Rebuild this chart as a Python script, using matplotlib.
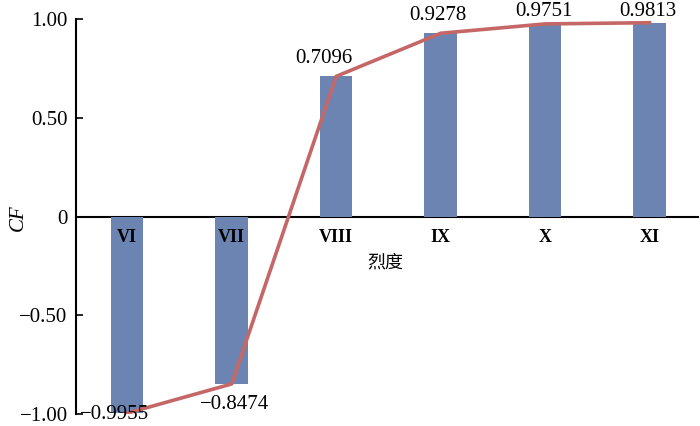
import matplotlib
matplotlib.use("Agg")
from matplotlib import pyplot as plt
import numpy as np

# data
roman_text = ["VI", "VII", "VIII", "IX", "X", "XI"]
cf_values = [-0.9955, -0.8474, 0.7096, 0.9278, 0.9751, 0.9813]
value_labels = ["\u22120.9955", "\u22120.8474", "0.7096", "0.9278", "0.9751", "0.9813"]
yticks = [-1.0, -0.5, 0, 0.5, 1.0]
ytick_labels = ["\u22121.00", "\u22120.50", "0", "0.50", "1.00"]

# label offsets in points (dx, dy)
label_offsets = [(-9, -1), (2, -15), (-9, 13), (-2, 13), (-1, 9), (-1, 8)]

bar_color = "#6b84b1"
line_color = "#c46766"
serif = ["Liberation Serif", "DejaVu Serif"]

fig = plt.figure(figsize=(7, 4.26), dpi=100)
ax = fig.add_axes([0.1086, 0.028, 0.888, 0.9274])

x = np.arange(len(cf_values))
ax.bar(x, cf_values, width=0.31, color=bar_color, zorder=2)
ax.plot(x, cf_values, color=line_color, lw=2.6, zorder=3)

for i in range(len(cf_values)):
    ax.annotate(value_labels[i], (x[i], cf_values[i]), xytext=label_offsets[i],
                textcoords="offset points", ha="center", va="center",
                fontsize=15, family=serif, zorder=4)
    ax.text(x[i], -0.105, roman_text[i], ha="center", va="center",
            fontsize=13, family=serif, fontweight="bold", zorder=4)

ax.text(2.47, -0.23, "烈度", ha="center", va="center", fontsize=13,
        family=["Noto Sans CJK SC", "DejaVu Sans"])

ax.set_xlim(-0.49, 5.46)
ax.set_ylim(-1.0, 1.0)
ax.set_yticks(yticks)
ax.set_yticklabels(ytick_labels, family=serif, fontsize=15)
ax.set_xticks([])
ax.tick_params(axis="y", direction="in", length=5, width=1.2, pad=6)

ax.spines["top"].set_visible(False)
ax.spines["right"].set_visible(False)
ax.spines["bottom"].set_position(("data", 0))
ax.spines["bottom"].set_linewidth(1.5)
ax.spines["left"].set_linewidth(1.5)
ax.spines["bottom"].set_zorder(1)

fig.text(0.026, 0.49, "CF", rotation=90, ha="center", va="center",
         fontsize=15, family=serif, style="italic")

plt.savefig("out.png", dpi=100)
plt.close()
